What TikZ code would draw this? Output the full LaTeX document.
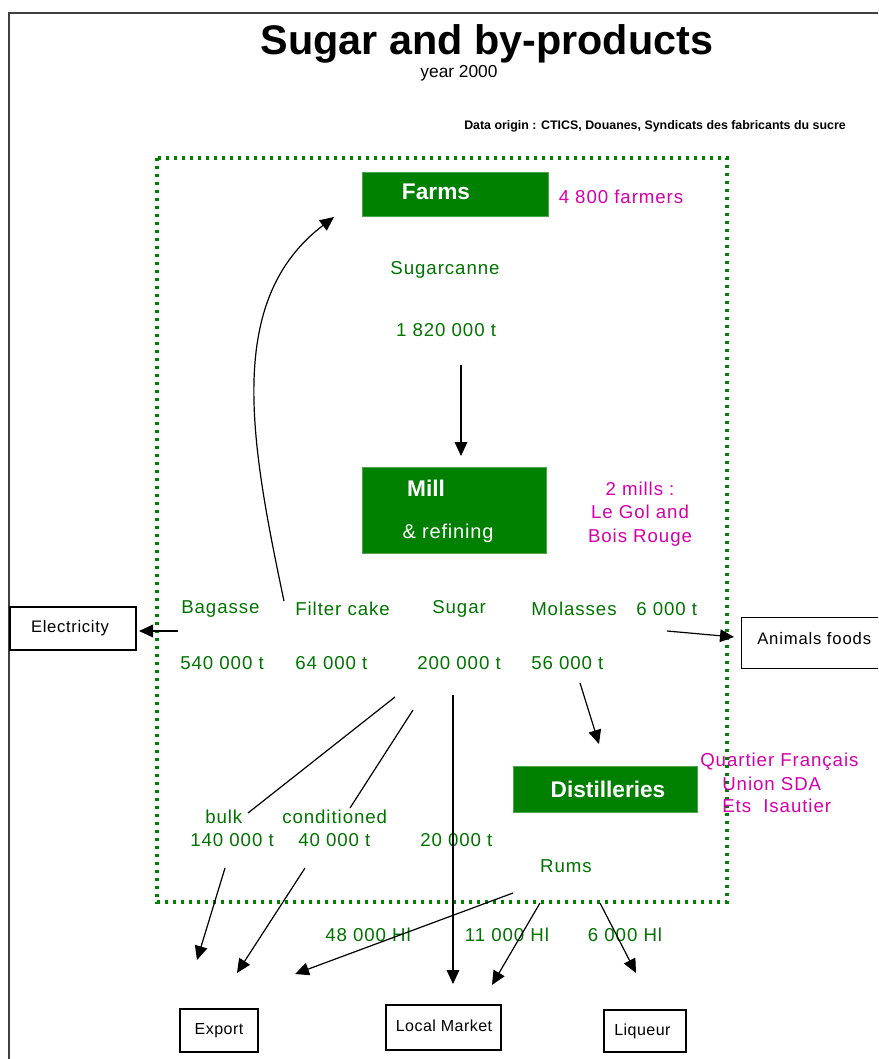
\documentclass[tikz,border=0pt]{standalone}
\usepackage{fontspec}
\setmainfont{Liberation Sans}
\usetikzlibrary{arrows.meta}
\definecolor{boxgreen}{RGB}{0,128,0}
\definecolor{txtgreen}{RGB}{0,115,0}
\definecolor{mag}{RGB}{214,0,170}
\begin{document}
\begin{tikzpicture}[x=0.75pt,y=-0.75pt,
  lbl/.style={text=txtgreen,font=\fontsize{14}{16}\selectfont\addfontfeature{LetterSpace=5},inner sep=0pt},
  note/.style={text=mag,font=\fontsize{14}{17.5}\selectfont\addfontfeature{LetterSpace=5},inner sep=0pt,align=center},
  gbox/.style={fill=boxgreen,draw=boxgreen!70!white,line width=0.6pt,inner sep=0pt},
  gtxt/.style={text=white,font=\bfseries\fontsize{17}{19}\selectfont,inner sep=0pt},
  wbox/.style={draw=black,line width=1.1pt,fill=white,inner sep=0pt},
  wtxt/.style={font=\fontsize{12}{14}\selectfont\addfontfeature{LetterSpace=3},inner sep=0pt},
  arr/.style={-{Triangle[length=10.5pt,width=9.5pt]},line width=0.9pt},
  ln/.style={line width=0.9pt}]
\useasboundingbox (0,0) rectangle (878,1059);
\clip (0,0) rectangle (878,1059);
\fill[white] (0,0) rectangle (878,1059);
\draw[line width=2pt,black!75] (9,1075) -- (9,13) -- (895,13);

% titles
\node[inner sep=0pt,font=\bfseries\fontsize{31}{34}\selectfont] (title) at (487,44) {Sugar and by-products};
\node[inner sep=0pt,font=\fontsize{13}{15}\selectfont] (year) at (459,73) {year 2000};
\node[inner sep=0pt,font=\bfseries\fontsize{9.3}{11}\selectfont] (origin) at (655,126) {Data origin : CTICS, Douanes, Syndicats des fabricants du sucre};

% dotted frame
\draw[boxgreen,line width=2.6pt,dash pattern=on 2.4pt off 3.6pt] (157,158) rectangle (727,902);

% green boxes
\node[gbox,minimum width=139.5pt,minimum height=33pt] (farms) at (455,194) {};
\node[gtxt] (farmst) at (436,192) {Farms};
\node[gbox,minimum width=138pt,minimum height=64pt] (mill) at (454,510.5) {};
\node[gtxt] (millt) at (426,488) {Mill};
\node[gtxt,font=\fontsize{15}{17}\selectfont\addfontfeature{LetterSpace=4}] (refin) at (448,533) {\& refining};
\node[gbox,minimum width=138pt,minimum height=34pt] (dist) at (605,789.5) {};
\node[gtxt] (distt) at (608,789) {Distilleries};

% magenta notes
\node[note] (farmers) at (621,197) {4 800 farmers};
\node[note] (mills) at (640,514) {2 mills :\\Le Gol and\\Bois Rouge};
\node[note,align=left,anchor=west] (q1) at (700,762) {Quartier Français};
\node[note,align=left,anchor=west] (q2) at (722,784) {Union SDA};
\node[note,align=left,anchor=west] (q3) at (722,806) {Ets\ \ Isautier};

% green labels
\node[lbl] (cane) at (445,270) {Sugarcanne};
\node[lbl] (caneq) at (446,330) {1 820 000 t};
\node[lbl,anchor=west] (bag) at (181,609) {Bagasse};
\node[lbl,anchor=west] (filt) at (295,609) {Filter cake};
\node[lbl,anchor=west] (sug) at (432,609) {Sugar};
\node[lbl,anchor=west] (mol) at (531,609) {Molasses};
\node[lbl,anchor=west] (molx) at (636,609) {6 000 t};
\node[lbl,anchor=west] (bagq) at (180,663) {540 000 t};
\node[lbl,anchor=west] (filtq) at (295,663) {64 000 t};
\node[lbl,anchor=west] (sugq) at (417,663) {200 000 t};
\node[lbl,anchor=west] (molq) at (531,663) {56 000 t};
\node[lbl,anchor=west] (bulk) at (205,817) {bulk};
\node[lbl,anchor=west] (cond) at (282,817) {conditioned};
\node[lbl,anchor=west] (bulkq) at (190,840) {140 000 t};
\node[lbl,anchor=west] (condq) at (298,840) {40 000 t};
\node[lbl,anchor=west] (locq) at (420,840) {20 000 t};
\node[lbl] (rums) at (566,866) {Rums};
\node[lbl] (h1) at (368,935) {48 000 Hl};
\node[lbl] (h2) at (507,935) {11 000 Hl};
\node[lbl] (h3) at (625,935) {6 000 Hl};

% white boxes
\node[wbox,minimum width=94.5pt,minimum height=32pt] (elec) at (73,628.5) {};
\node[wtxt,font=\fontsize{12.5}{14}\selectfont\addfontfeature{LetterSpace=4}] (elect) at (70,628) {Electricity};
\node[wbox,minimum width=120pt,minimum height=38pt,anchor=north west] (anim) at (741,617) {};
\node[wtxt,anchor=west,font=\fontsize{12.5}{14}\selectfont\addfontfeature{LetterSpace=5}] (animt) at (757,639) {Animals foods};
\node[wbox,minimum width=58.5pt,minimum height=32pt] (exp) at (219,1030.5) {};
\node[wtxt] (expt) at (219,1031) {Export};
\node[wbox,minimum width=86pt,minimum height=34pt] (loc) at (443.5,1027.5) {};
\node[wtxt] (loct) at (444,1026) {Local Market};
\node[wbox,minimum width=61.5pt,minimum height=31.5pt] (liq) at (645,1031) {};
\node[wtxt,anchor=west] (liqt) at (614,1031) {Liqueur};

% connector end points
\coordinate (c1s) at (461,365); \coordinate (c1e) at (461,456);
\coordinate (fcs) at (284,601); \coordinate (fce) at (334,217);
\coordinate (els) at (178,631); \coordinate (ele) at (139,631);
\coordinate (ans) at (667,631); \coordinate (ane) at (734,637);
\coordinate (bls) at (395,697); \coordinate (ble) at (248,813);
\coordinate (cns) at (413,710); \coordinate (cne) at (350,808);
\coordinate (sgs) at (453,695); \coordinate (sge) at (453,984);
\coordinate (mls) at (580,683); \coordinate (mle) at (599,744);
\coordinate (b2s) at (225,868); \coordinate (b2e) at (197,960);
\coordinate (c2s) at (305,868); \coordinate (c2e) at (237,973);
\coordinate (r1s) at (513,893); \coordinate (r1e) at (295,974);
\coordinate (r2s) at (540,903); \coordinate (r2e) at (492,985);
\coordinate (r3s) at (600,903); \coordinate (r3e) at (636,973);

\draw[arr] (c1s) -- (c1e);
\draw[arr] (fcs) .. controls (250,440) and (225,300) .. (fce);
\draw[arr] (els) -- (ele);
\draw[arr] (ans) -- (ane);
\draw[ln] (bls) -- (ble);
\draw[ln] (cns) -- (cne);
\draw[arr] (sgs) -- (sge);
\draw[arr] (mls) -- (mle);
\draw[arr] (b2s) -- (b2e);
\draw[arr] (c2s) -- (c2e);
\draw[arr] (r1s) -- (r1e);
\draw[arr] (r2s) -- (r2e);
\draw[arr] (r3s) -- (r3e);
\end{tikzpicture}
\end{document}
